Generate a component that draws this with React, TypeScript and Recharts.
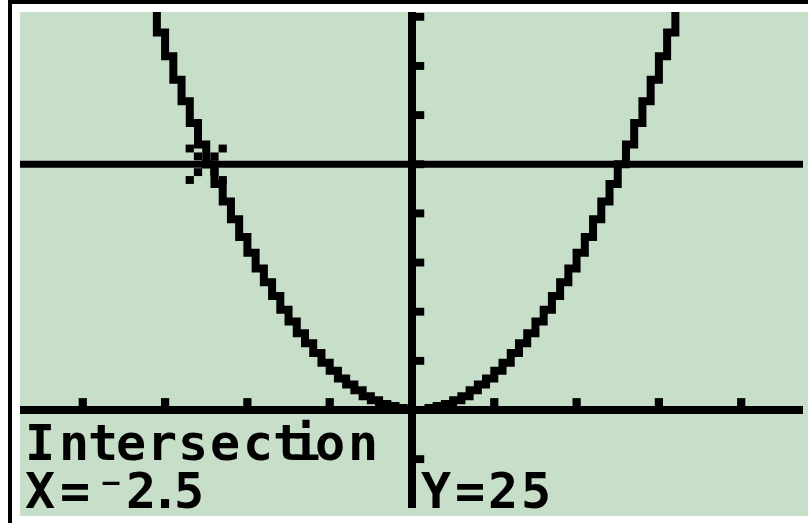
import { ComposedChart, Line, Scatter, XAxis, YAxis, ReferenceLine } from "recharts"

// Y1 = 4X², Y2 = 25, window X[-4.7,4.7] Y[-10,40]
const curveX = [
  -3.2, -3.1, -3.0, -2.9, -2.8, -2.7, -2.6, -2.5, -2.4, -2.3, -2.2, -2.1, -2.0,
  -1.9, -1.8, -1.7, -1.6, -1.5, -1.4, -1.3, -1.2, -1.1, -1.0, -0.9, -0.8, -0.7,
  -0.6, -0.5, -0.4, -0.3, -0.2, -0.1, 0, 0.1, 0.2, 0.3, 0.4, 0.5, 0.6, 0.7, 0.8,
  0.9, 1.0, 1.1, 1.2, 1.3, 1.4, 1.5, 1.6, 1.7, 1.8, 1.9, 2.0, 2.1, 2.2, 2.3, 2.4,
  2.5, 2.6, 2.7, 2.8, 2.9, 3.0, 3.1, 3.2,
]
const curveY = [
  41.0, 38.4, 36.0, 33.6, 31.4, 29.2, 27.0, 25.0, 23.0, 21.2, 19.4, 17.6, 16.0,
  14.4, 13.0, 11.6, 10.2, 9.0, 7.8, 6.8, 5.8, 4.8, 4.0, 3.2, 2.6, 2.0,
  1.4, 1.0, 0.6, 0.4, 0.2, 0.0, 0, 0.0, 0.2, 0.4, 0.6, 1.0, 1.4, 2.0, 2.6,
  3.2, 4.0, 4.8, 5.8, 6.8, 7.8, 9.0, 10.2, 11.6, 13.0, 14.4, 16.0, 17.6, 19.4, 21.2, 23.0,
  25.0, 27.0, 29.2, 31.4, 33.6, 36.0, 38.4, 41.0,
]
const lineY = 25
const xTicks = [-4, -3, -2, -1, 1, 2, 3, 4]
const yTicks = [-5, 5, 10, 15, 20, 25, 30, 35, 40]
const hit = { x: -2.5, y: 25 }

const curve = curveX.map((x, i) => ({ x, y: curveY[i] }))
const xTickData = xTicks.map(x => ({ x, y: 0 }))
const yTickData = yTicks.map(y => ({ x: 0, y }))

const INK = "#000"
const LCD = "#c7dec8"
const PX = 8.24
const PY = 7.87

const XTickMark = (p: any) => (
  <rect x={p.cx - PX / 2} y={p.cy - 4 - PY} width={PX} height={PY} fill={INK} />
)
const YTickMark = (p: any) => (
  <rect x={p.cx + 4} y={p.cy - PY / 2} width={PX} height={PY} fill={INK} />
)
const Cursor = (p: any) => {
  const offs = [-2, -1, 0, 1, 2]
  return (
    <g>
      {offs.map(k => (
        <g key={k}>
          <rect x={p.cx + k * PX - PX / 2} y={p.cy + k * PY - PY / 2} width={PX} height={PY} fill={INK} />
          <rect x={p.cx + k * PX - PX / 2} y={p.cy - k * PY - PY / 2} width={PX} height={PY} fill={INK} />
        </g>
      ))}
    </g>
  )
}

const font = { fontFamily: "'DejaVu Sans Mono', monospace", fontWeight: 700, fontSize: 50 }

export default function App() {
  return (
    <div style={{ position: "absolute", left: 0, top: 0, width: 808, height: 523, background: "#fff", overflow: "hidden" }}>
      <div style={{ position: "absolute", left: 8, top: 0, width: 800, height: 4, background: INK }} />
      <div style={{ position: "absolute", left: 8, top: 0, width: 4, height: 523, background: INK }} />
      <div style={{ position: "absolute", left: 20, top: 12, width: 788, height: 504, background: LCD }} />
      <div style={{ position: "absolute", left: 20, top: 12 }}>
        <ComposedChart width={783} height={496} margin={{ top: 0, right: 0, bottom: 0, left: 0 }}>
          <XAxis type="number" dataKey="x" domain={[-4.763, 4.751]} allowDataOverflow hide />
          <YAxis type="number" domain={[-9.97, 40.49]} allowDataOverflow hide />
          <ReferenceLine x={0} stroke={INK} strokeWidth={8} />
          <ReferenceLine y={0} stroke={INK} strokeWidth={8} />
          <ReferenceLine y={lineY} stroke={INK} strokeWidth={7} />
          <Scatter data={xTickData} dataKey="y" shape={XTickMark} isAnimationActive={false} />
          <Scatter data={yTickData} dataKey="y" shape={YTickMark} isAnimationActive={false} />
          <Line
            data={curve}
            dataKey="y"
            type="stepAfter"
            stroke={INK}
            strokeWidth={8}
            strokeLinejoin="miter"
            dot={false}
            isAnimationActive={false}
          />
          <Scatter data={[hit]} dataKey="y" shape={Cursor} isAnimationActive={false} />
        </ComposedChart>
      </div>
      <svg width={808} height={523} style={{ position: "absolute", left: 0, top: 0 }}>
        <text {...font} fill={INK} textAnchor="middle" y={460}
          x="40 74 103 131 162 193 225 258 288 305 330 363">Intersection</text>
        <text {...font} fill={INK} textAnchor="middle" y={508}
          x="40 75 111 141 165 189">X=⁻2.5</text>
        <text {...font} fill={INK} textAnchor="middle" y={508}
          x="436 470 503 536">Y=25</text>
      </svg>
    </div>
  )
}
